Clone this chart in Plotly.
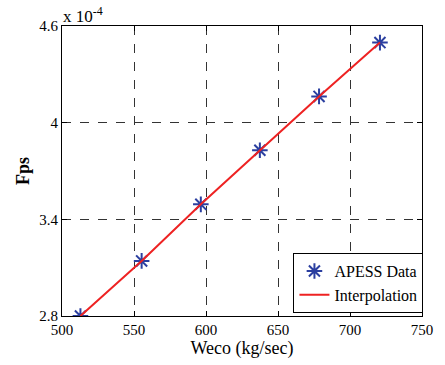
import plotly.graph_objects as go

# Mass flow of economiser water vs. Fps coefficient
weco = [512.8, 555.3, 596.4, 637.4, 678.5, 720.8]
fps = [2.800e-4, 3.142e-4, 3.493e-4, 3.829e-4, 4.163e-4, 4.497e-4]

x_ticks = [500, 550, 600, 650, 700, 750]
y_ticks = [2.8e-4, 3.4e-4, 4.0e-4, 4.6e-4]
y_tick_labels = ["2.8", "3.4", "4", "4.6"]

serif = "Liberation Serif"

fig = go.Figure()
fig.add_trace(go.Scatter(
    x=weco, y=fps, mode="markers", name="APESS Data",
    marker=dict(symbol="asterisk-open", size=13, color="#2b3fa0",
                line=dict(color="#2b3fa0", width=2)),
))
fig.add_trace(go.Scatter(
    x=weco, y=fps, mode="lines", name="Interpolation",
    line=dict(color="#ee2222", width=2),
))

axis_common = dict(
    showline=True, linecolor="black", linewidth=1.2, mirror="ticks",
    ticks="inside", ticklen=5, tickcolor="black",
    showgrid=True, gridcolor="#333333", griddash="dash", gridwidth=1,
    zeroline=False, tickfont=dict(family=serif, size=15, color="black"),
)

fig.update_xaxes(range=[500, 750], tickvals=x_ticks,
                 title=dict(text="Weco (kg/sec)", font=dict(family=serif, size=18, color="black"), standoff=2),
                 **axis_common)
fig.update_yaxes(range=[2.8e-4, 4.6e-4], tickvals=y_ticks, ticktext=y_tick_labels,
                 title=dict(text="<b>Fps</b>", font=dict(family=serif, size=18, color="black"), standoff=4),
                 **axis_common)

fig.add_annotation(x=0, y=1, xref="paper", yref="paper", xanchor="left", yanchor="bottom",
                   text="x 10<sup>-4</sup>", showarrow=False, xshift=-1, yshift=-2,
                   font=dict(family=serif, size=17, color="black"))

fig.update_layout(
    width=445, height=365,
    margin=dict(l=62, r=18, t=26, b=48),
    paper_bgcolor="white", plot_bgcolor="white",
    font=dict(family=serif, color="black"),
    legend=dict(x=1.004, y=0.01, xanchor="right", yanchor="bottom",
                bgcolor="white", bordercolor="black", borderwidth=1,
                font=dict(family=serif, size=16, color="black"),
                tracegroupgap=0, itemwidth=30),
    showlegend=True,
)

fig.write_html("out.html")
